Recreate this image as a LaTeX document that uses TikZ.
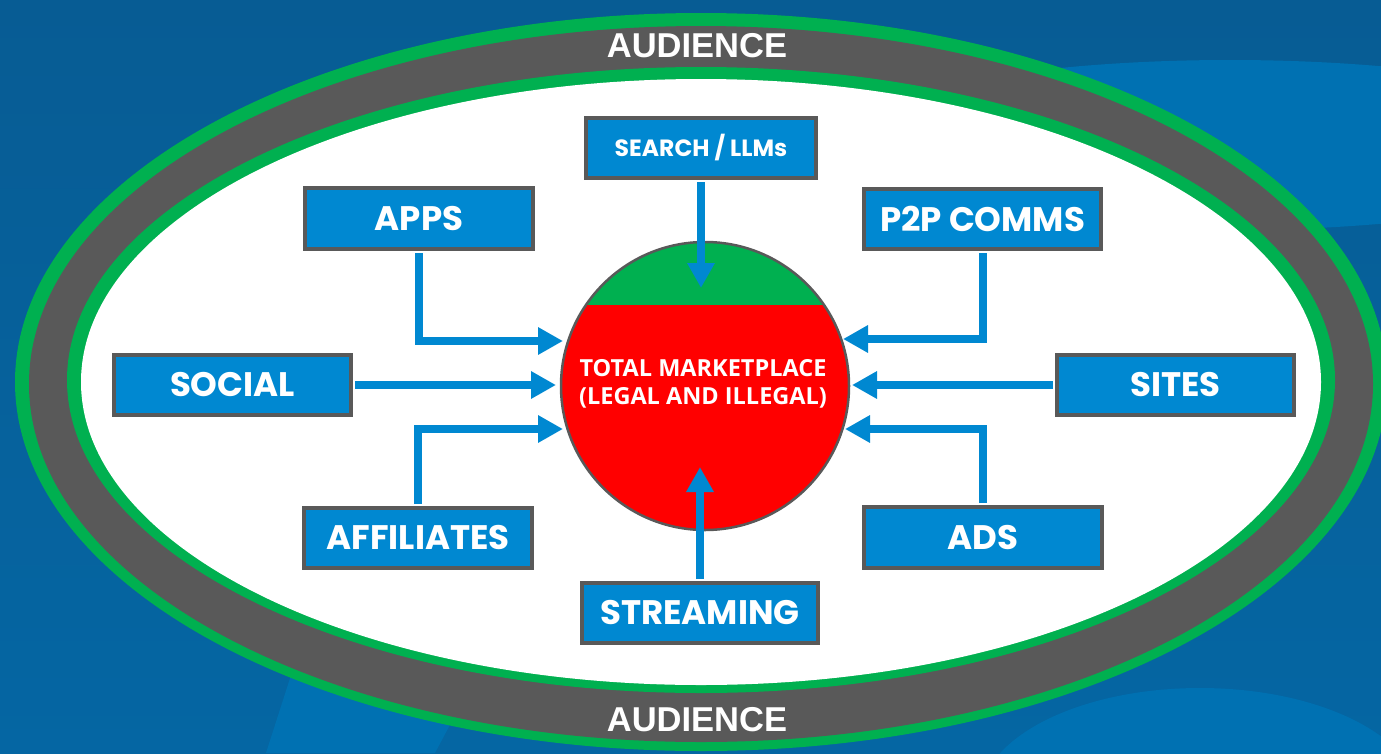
\documentclass[tikz,border=0pt]{standalone}
\usepackage{fontspec}
\usetikzlibrary{arrows.meta}
\newfontfamily\boxfont{Poppins}
\newfontfamily\mktfont{Open Sans}
\newfontfamily\audfont{Liberation Sans}
\definecolor{bgdark}{HTML}{075C94}
\definecolor{bgmid}{HTML}{0566A3}
\definecolor{bglight}{HTML}{0071B2}
\definecolor{boxblue}{HTML}{0088D1}
\definecolor{ringgray}{HTML}{595959}
\definecolor{ringgreen}{HTML}{00B050}
\definecolor{mktred}{HTML}{FF0000}
\begin{document}
\begin{tikzpicture}[x=1pt,y=-1pt,
  box/.style={draw=ringgray, line width=4pt, fill=boxblue, text=white, inner sep=0pt,
    font=\boxfont\bfseries\fontsize{34}{40}\selectfont},
  smallbox/.style={box, font=\boxfont\bfseries\fontsize{23.5}{28}\selectfont},
  arr/.style={draw=boxblue, line width=8pt, shorten <=2pt, -{Triangle[length=25pt,width=26pt]}},
  aud/.style={text=white, inner sep=0pt, font=\audfont\bfseries\fontsize{34.5}{38}\selectfont},
]
\useasboundingbox (0,0) rectangle (1381,753);
% background
\shade[top color=bgdark, bottom color=bgmid] (0,0) rectangle (1381,753);
\begin{scope}
  \clip (0,0) rectangle (1381,753);
  \fill[bglight] (1230,145) ellipse [x radius=400, y radius=85];
  \fill[bglight] (1200,800) ellipse [x radius=220, y radius=112];
  \fill[bglight] (292,672) -- (266,753) -- (435,753) -- (478,672) -- cycle;
\end{scope}
% audience rings
\fill[ringgreen] (701,382) ellipse [x radius=686, y radius=369];
\fill[ringgray]  (701,384) ellipse [x radius=672, y radius=358];
\fill[ringgreen] (701,380) ellipse [x radius=634, y radius=313];
\fill[white]     (701,382) ellipse [x radius=620, y radius=303];
\node[aud] (audTop) at (697,46) {AUDIENCE};
\node[aud] (audBot) at (697,720) {AUDIENCE};
% central marketplace
\node[circle, minimum size=288pt, inner sep=0pt, draw=ringgray, line width=2.5pt, fill=mktred,
  path picture={\fill[ringgreen] (path picture bounding box.north west) rectangle ([yshift=-63pt]path picture bounding box.north east);}]
  (mkt) at (705,386) {};
\node[text=white, align=center, inner sep=0pt, font=\mktfont\bfseries\fontsize{23.5}{28}\selectfont]
  (mkttext) at (703,384) {TOTAL MARKETPLACE\\(LEGAL AND ILLEGAL)};
% channel boxes
\node[smallbox, minimum width=230pt, minimum height=60pt] (search) at (701,148) {SEARCH / LLMs};
\node[box, minimum width=228pt, minimum height=61pt] (apps) at (419,218.5) {APPS};
\node[box, minimum width=237pt, minimum height=60pt] (p2p) at (982.5,219) {P2P COMMS};
\node[box, minimum width=237pt, minimum height=60pt] (social) at (232.5,385) {SOCIAL};
\node[box, minimum width=237pt, minimum height=60pt] (sites) at (1175.5,385) {SITES};
\node[box, minimum width=228pt, minimum height=60pt] (affiliates) at (418,538) {AFFILIATES};
\node[box, minimum width=238pt, minimum height=61pt] (ads) at (983,537.5) {ADS};
\node[box, minimum width=236pt, minimum height=60pt] (streaming) at (700,613) {STREAMING};
% arrow tips
\coordinate (tSearch) at (701,288);
\coordinate (tApps) at (563,341);
\coordinate (tSocial) at (556,385);
\coordinate (tAff) at (563,429);
\coordinate (tP2P) at (843,339);
\coordinate (tSites) at (852,385);
\coordinate (tAds) at (845,429);
\coordinate (tStream) at (700,467);
% connectors
\draw[arr] (search.south) -- (tSearch);
\draw[arr] (apps.south) |- (tApps);
\draw[arr] (social.east) -- (tSocial);
\draw[arr] (affiliates.north) |- (tAff);
\draw[arr] (p2p.south) |- (tP2P);
\draw[arr] (sites.west) -- (tSites);
\draw[arr] (ads.north) |- (tAds);
\draw[arr] (streaming.north) -- (tStream);
\end{tikzpicture}
\end{document}
